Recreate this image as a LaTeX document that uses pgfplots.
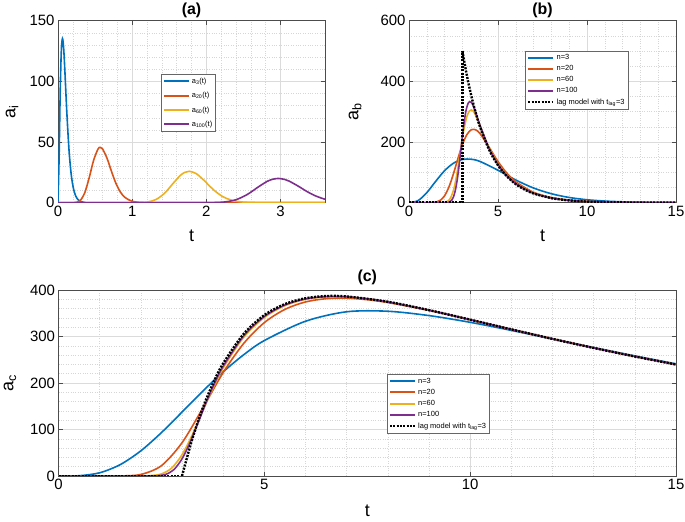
\documentclass[border=0pt]{standalone}
\usepackage{fontspec}
\setmainfont{Liberation Sans}
\usepackage{pgfplots}
\pgfplotsset{compat=1.18}
\definecolor{mblue}{RGB}{0,114,189}
\definecolor{morange}{RGB}{217,83,25}
\definecolor{myellow}{RGB}{237,177,32}
\definecolor{mpurple}{RGB}{126,47,142}
\pgfplotsset{
  every axis title shift=0pt,
  mystyle/.style={
    scale only axis,
    axis line style={black!70, line width=0.6bp},
    every tick/.style={black!70, line width=0.6bp},
    grid=both,
    major grid style={black!14, line width=0.5bp},
    minor grid style={black!16, line width=0.5bp, dash pattern=on 0.8bp off 1.6bp},
    tick align=inside,
    major tick length=4bp,
    minor tick length=0bp,
    tick label style={font=\fontsize{15}{18}\selectfont},
    /pgf/number format/assume math mode=true,
    label style={font=\fontsize{18}{21}\selectfont},
    title style={font=\bfseries\fontsize{16}{19}\selectfont, anchor=base},
    legend cell align=left,
    legend style={font=\fontsize{7.5}{9}\selectfont, draw=black!60, line width=0.6bp, anchor=north west, inner sep=1.5bp},
    legend image code/.code={\draw[##1, line width=2bp] (0bp,0bp) -- (25bp,0bp);},
    every axis plot/.append style={line width=1.6bp, smooth},
  },
  lagstyle/.style={black, line width=2.4bp, dash pattern=on 2bp off 1.3bp, smooth},
  lagleg/.style={legend image code/.code={\draw[black, line width=2.4bp, dash pattern=on 2bp off 1.3bp] (0bp,0bp) -- (25bp,0bp);}},
}
\begin{document}
\begin{tikzpicture}
\useasboundingbox (0,0) rectangle (685bp,522bp);
% ---------------- (a) ----------------
\begin{axis}[mystyle,
  at={(58bp,319.3bp)}, anchor=south west, width=267bp, height=182bp,
  xmin=0, xmax=3.6, ymin=0, ymax=150,
  xtick={0,1,2,3}, ytick={0,50,100,150}, minor x tick num=4, minor y tick num=4,
  title={(a)}, title style={at={(0.5,1.032)}},
  xlabel={t}, xlabel style={at={(0.5,-0.215)}, anchor=base},
  ylabel={a\textsubscript{i}}, ylabel style={at={(-0.172,0.5)}, anchor=center},
  legend style={at={(0.386,0.707)}, row sep=3.5bp},
]
\addplot[mblue] coordinates {(0,0)(0.015,37.9)(0.03,92.0)(0.045,125.5)(0.06,135.3)(0.075,128.3)(0.09,112.0)(0.12,73.3)(0.15,42.1)(0.18,22.3)(0.21,11.2)(0.24,5.37)(0.27,2.5)(0.30,1.13)(0.36,0.22)(0.45,0)(3.6,0)};
\addlegendentry{a\textsubscript{3}(t)}
\addplot[morange] coordinates {(0,0)(0.15,0)(0.24,0.2)(0.30,1.87)(0.36,8.07)(0.42,20.4)(0.48,34.9)(0.54,44.3)(0.57,45.6)(0.60,44.4)(0.66,36.8)(0.72,26.0)(0.78,16.1)(0.84,8.9)(0.90,4.47)(0.99,1.36)(1.08,0.35)(1.2,0.05)(1.4,0)(3.6,0)};
\addlegendentry{a\textsubscript{20}(t)}
\addplot[myellow] coordinates {(0,0)(0.9,0)(1.05,0.03)(1.2,0.51)(1.32,2.58)(1.44,8.0)(1.56,16.5)(1.65,22.5)(1.71,25.0)(1.77,25.9)(1.86,24.1)(1.95,19.5)(2.04,14.0)(2.10,10.4)(2.22,5.05)(2.34,2.07)(2.49,0.54)(2.7,0.06)(2.9,0)(3.6,0)};
\addlegendentry{a\textsubscript{60}(t)}
\addplot[mpurple] coordinates {(0,0)(1.9,0)(2.1,0.1)(2.25,0.61)(2.4,2.46)(2.55,6.7)(2.7,12.95)(2.82,17.6)(2.88,19.1)(2.97,20.0)(3.06,19.1)(3.12,17.7)(3.24,13.6)(3.36,9.1)(3.48,5.4)(3.6,2.84)};
\addlegendentry{a\textsubscript{100}(t)}
\end{axis}
% ---------------- (b) ----------------
\begin{axis}[mystyle,
  at={(409bp,319.3bp)}, anchor=south west, width=267bp, height=182bp,
  xmin=0, xmax=15, ymin=0, ymax=600,
  xtick={0,5,10,15}, ytick={0,200,400,600}, minor x tick num=4, minor y tick num=3,
  title={(b)}, title style={at={(0.5,1.032)}},
  xlabel={t}, xlabel style={at={(0.5,-0.215)}, anchor=base},
  ylabel={a\textsubscript{b}}, ylabel style={at={(-0.202,0.5)}, anchor=center},
  legend style={at={(0.436,0.834)}, row sep=0.3bp},
]
\addplot[mblue] coordinates {(0,0)(0.5,6.6)(1,33.1)(1.5,70.5)(2,105.6)(2.5,130.3)(3,142.5)(3.5,143.4)(4,135.7)(5,106.9)(6,74.8)(7,48.3)(8,29.5)(9,17.2)(10,9.74)(11,5.37)(12,2.90)(13,1.54)(14,0.81)(15,0.42)};
\addlegendentry{n=3}
\addplot[morange] coordinates {(0,0)(1,0)(1.5,1.67)(1.75,7.5)(2,23.0)(2.25,52.7)(2.5,95.9)(2.75,145.6)(3,191.5)(3.25,224.4)(3.5,240.5)(3.75,240.2)(4,227.2)(4.5,182.8)(5,135.6)(5.5,97.2)(6,68.8)(7,34.2)(8,17.0)(9,8.44)(10,4.19)(12,1.03)(15,0.13)};
\addlegendentry{n=20}
\addplot[myellow] coordinates {(0,0)(1.6,0)(2,0.9)(2.2,5.9)(2.35,17.5)(2.5,41.7)(2.6,66.4)(2.75,116.1)(2.9,173.9)(3,212.1)(3.1,246.1)(3.25,284.0)(3.4,303.1)(3.5,306.0)(3.6,302.4)(3.75,288.2)(4,253.0)(4.5,181.5)(5,128.0)(5.5,90.2)(6,63.6)(7,31.6)(8,15.7)(9,7.79)(10,3.87)(12,0.95)(15,0.12)};
\addlegendentry{n=60}
\addplot[mpurple] coordinates {(0,0)(2,0)(2.2,0.85)(2.4,8.04)(2.5,19.2)(2.6,39.8)(2.7,71.8)(2.8,115.3)(2.9,166.7)(3.0,219.5)(3.1,266.6)(3.2,302.6)(3.3,324.6)(3.4,333.3)(3.5,330.8)(3.6,320.6)(3.8,288.6)(4,253.3)(4.5,178.9)(5,126.1)(5.5,88.8)(6,62.6)(7,31.1)(8,15.4)(9,7.67)(10,3.81)(12,0.94)(15,0.115)};
\addlegendentry{n=100}
\addplot[lagstyle, sharp plot, forget plot] coordinates {(0,0)(3,0)(3,500)};
\addplot[lagstyle, lagleg] coordinates {(3,500)(3.25,419.7)(3.5,352.3)(3.75,295.8)(4,248.3)(4.5,175.0)(5,123.3)(5.5,86.9)(6,61.2)(6.5,43.1)(7,30.4)(8,15.1)(9,7.5)(10,3.72)(11,1.85)(12,0.92)(13,0.46)(15,0.11)};
\addlegendentry{lag model with t\textsubscript{lag}=3}
\end{axis}
% ---------------- (c) ----------------
\begin{axis}[mystyle,
  at={(58.5bp,46bp)}, anchor=south west, width=617.5bp, height=186bp,
  xmin=0, xmax=15, ymin=0, ymax=400,
  xtick={0,5,10,15}, ytick={0,100,200,300,400}, minor x tick num=4, minor y tick num=4,
  title={(c)}, title style={at={(0.5,1.045)}},
  xlabel={t}, xlabel style={at={(0.5,-0.218)}, anchor=base},
  ylabel={a\textsubscript{c}}, ylabel style={at={(-0.0785,0.5)}, anchor=center},
  legend style={at={(0.532,0.548)}, row sep=0.5bp},
]
\addplot[mblue] coordinates {(0,0)(0.5,0.6)(1,6.9)(1.5,24.5)(2,54.1)(2.5,93.3)(3,137.4)(3.5,182.0)(4,224.0)(4.5,260.8)(5,291.3)(6,332.8)(7,353.2)(8,354.3)(9,345.0)(10,330.5)(11,313.1)(12,294.6)(13,276.2)(14,258.3)(15,241.2)};
\addlegendentry{n=3}
\addplot[morange] coordinates {(0,0)(1,0)(1.5,0.1)(2,3.3)(2.5,22.2)(3,71.4)(3.5,145.2)(4,222.5)(4.5,285.2)(5,329.9)(5.5,358.3)(6,374.3)(6.5,381.3)(7,382.4)(7.5,379.1)(8,373.0)(9,356.1)(10,336.1)(11,315.4)(12,295.1)(13,275.6)(14,257.2)(15,240.0)};
\addlegendentry{n=20}
\addplot[myellow] coordinates {(0,0)(2,0)(2.25,1.0)(2.5,4.4)(2.75,17.2)(3,45.7)(3.25,88.6)(3.5,139.0)(3.75,188.5)(4,232.2)(4.5,298.5)(5,340.9)(5.5,366.3)(6,379.8)(6.5,385.2)(7,384.9)(7.5,380.9)(8,374.2)(9,356.5)(10,336.2)(11,315.3)(12,294.9)(13,275.5)(14,257.1)(15,239.8)};
\addlegendentry{n=60}
\addplot[mpurple] coordinates {(0,0)(2.2,0)(2.4,0.7)(2.6,3.3)(2.8,13.5)(3,36.7)(3.2,72.9)(3.4,116.7)(3.6,161.0)(3.8,201.2)(4,236.0)(4.5,301.5)(5,343.0)(5.5,367.8)(6,380.9)(6.5,385.9)(7,385.4)(7.5,381.2)(8,374.5)(9,356.6)(10,336.2)(11,315.4)(12,294.9)(13,275.5)(14,257.1)(15,239.8)};
\addlegendentry{n=100}
\addplot[lagstyle, sharp plot, forget plot] coordinates {(0,0)(3,0)};
\addplot[lagstyle, lagleg] coordinates {(3,0)(3.25,79.6)(3.5,145.0)(3.75,198.5)(4,242.1)(4.5,305.8)(5,346.0)(5.5,369.8)(6,382.3)(6.5,386.9)(7,386.1)(8,374.7)(9,356.7)(10,336.2)(11,315.3)(12,294.9)(13,275.4)(14,257.0)(15,239.7)};
\addlegendentry{lag model with t\textsubscript{lag}=3}
\end{axis}
\end{tikzpicture}
\end{document}
